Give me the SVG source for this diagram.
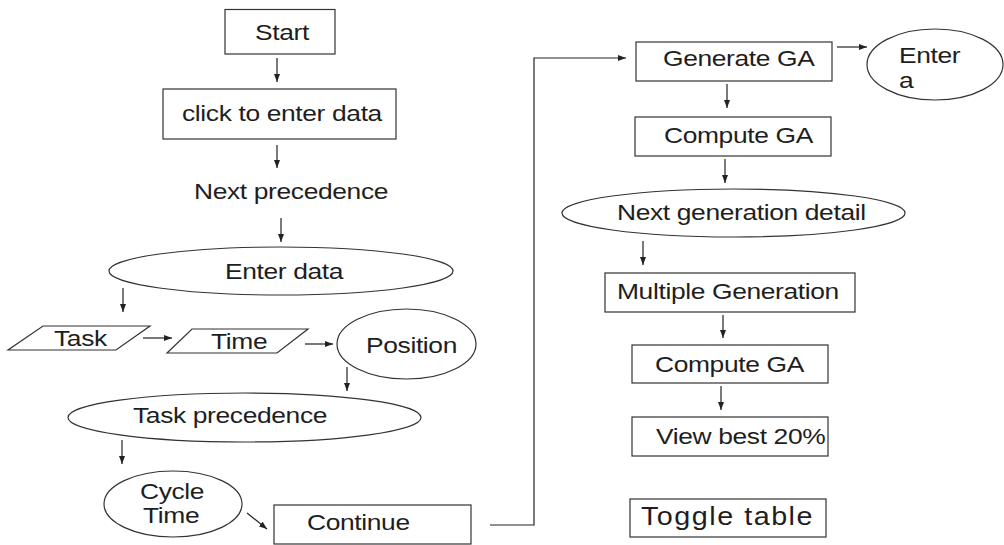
<svg xmlns="http://www.w3.org/2000/svg" width="1004" height="545" viewBox="0 0 1004 545">
<style>
.s{fill:none;stroke:#333;stroke-width:1.2}
.c{fill:none;stroke:#222;stroke-width:1.2}
text{font-family:"Liberation Sans",Arial,sans-serif;font-size:22px;fill:#1e1e1e;letter-spacing:-0.3px}
.big{font-size:25px;letter-spacing:1.3px}
</style>
<defs>
<marker id="ah" viewBox="0 0 8 6" refX="8" refY="3" markerWidth="8" markerHeight="6" markerUnits="userSpaceOnUse" orient="auto">
<path d="M0,0 L8,3 L0,6 z" fill="#222"/>
</marker>
</defs>
<rect width="1004" height="545" fill="#fff"/>
<g id="connectors" class="c" marker-end="url(#ah)">
<line x1="277" y1="58" x2="277" y2="82"/>
<line x1="277" y1="145" x2="277" y2="168"/>
<line x1="281" y1="218" x2="281" y2="242"/>
<line x1="123" y1="288" x2="123" y2="312"/>
<line x1="143" y1="338" x2="172" y2="338"/>
<line x1="305" y1="344" x2="333" y2="344"/>
<line x1="347" y1="367" x2="347" y2="391"/>
<line x1="122" y1="440" x2="122" y2="464"/>
<line x1="247" y1="513" x2="267" y2="529"/>
<polyline points="490,525 534,525 534,58 626,58"/>
<line x1="837" y1="47" x2="867" y2="47"/>
<line x1="727" y1="84" x2="727" y2="108"/>
<line x1="725" y1="159" x2="725" y2="183"/>
<line x1="643" y1="241" x2="643" y2="265"/>
<line x1="723" y1="315" x2="723" y2="338"/>
<line x1="721" y1="386" x2="721" y2="410"/>
</g>
<g id="start"><rect class="s" x="225" y="9.5" width="110" height="44.5"/><text transform="translate(255,40) scale(1.2,1)">Start</text></g>
<g id="click"><rect class="s" x="163" y="89" width="233" height="50"/><text transform="translate(182,121) scale(1.2,1)">click to enter data</text></g>
<g id="nextprec"><text transform="translate(194,199) scale(1.2,1)">Next precedence</text></g>
<g id="enterdata"><ellipse class="s" cx="281" cy="271" rx="172" ry="24"/><text transform="translate(225,279) scale(1.2,1)">Enter data</text></g>
<g id="task"><polygon class="s" points="43,326 150,326 116,350 8,350"/><text transform="translate(54,346) scale(1.2,1)">Task</text></g>
<g id="time"><polygon class="s" points="192,329 308,329 277,353 167,353"/><text transform="translate(211,349) scale(1.2,1)">Time</text></g>
<g id="position"><ellipse class="s" cx="406.5" cy="344" rx="69.5" ry="35"/><text transform="translate(366,353) scale(1.2,1)">Position</text></g>
<g id="taskprec"><ellipse class="s" cx="244.5" cy="417.5" rx="176.5" ry="24.5"/><text transform="translate(133,423) scale(1.2,1)">Task precedence</text></g>
<g id="cycletime"><ellipse class="s" cx="173" cy="504" rx="69" ry="33"/><text transform="translate(140,499) scale(1.2,1)">Cycle</text><text transform="translate(143,523) scale(1.2,1)">Time</text></g>
<g id="continue"><rect class="s" x="274" y="505" width="197" height="39"/><text transform="translate(307,530) scale(1.2,1)">Continue</text></g>
<g id="generate"><rect class="s" x="636" y="42" width="196" height="39"/><text transform="translate(663,66) scale(1.2,1)">Generate GA</text></g>
<g id="entera"><ellipse class="s" cx="935" cy="64.5" rx="68" ry="35.5"/><text transform="translate(899,63) scale(1.2,1)">Enter</text><text transform="translate(899,88) scale(1.2,1)">a</text></g>
<g id="compute1"><rect class="s" x="635" y="117" width="196" height="39"/><text transform="translate(664,143) scale(1.2,1)">Compute GA</text></g>
<g id="nextgen"><ellipse class="s" cx="733.5" cy="213" rx="171.5" ry="24"/><text transform="translate(617,220) scale(1.2,1)">Next generation detail</text></g>
<g id="multiple"><rect class="s" x="605" y="273" width="250" height="39"/><text transform="translate(617,299) scale(1.2,1)">Multiple Generation</text></g>
<g id="compute2"><rect class="s" x="632" y="345" width="196" height="38"/><text transform="translate(655,372) scale(1.2,1)">Compute GA</text></g>
<g id="viewbest"><rect class="s" x="632" y="417" width="196" height="39"/><text transform="translate(656,444) scale(1.2,1)">View best 20%</text></g>
<g id="toggle"><rect class="s" x="630" y="499" width="196" height="38"/><text class="big" transform="translate(641,525) scale(1.15,1)">Toggle table</text></g>
</svg>
